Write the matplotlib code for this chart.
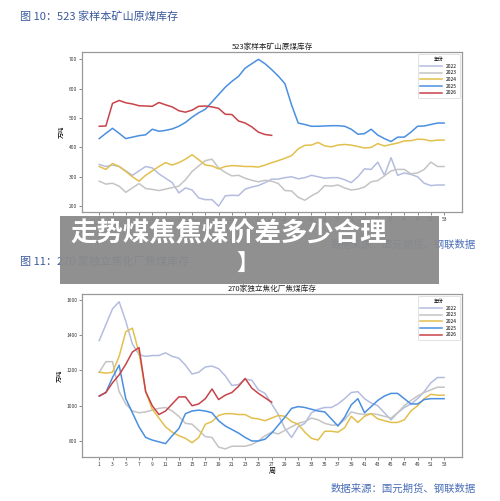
import matplotlib
matplotlib.use("Agg")
import matplotlib.pyplot as plt
import matplotlib.patches as mpatches

plt.rcParams['font.family'] = ['Noto Sans CJK SC', 'DejaVu Sans']

weeks = list(range(1, 54))
years = ['2022', '2023', '2024', '2025', '2026']
colors = ['#b4bde0', '#c4c4c4', '#e2c04e', '#4a8fe0', '#c8434a']

mine_2022 = [342,335,340,335,320,305,320,335,330,310,295,280,245,262,255,228,222,222,200,235,237,236,258,265,270,280,292,292,297,300,293,297,305,300,295,297,297,290,280,300,327,325,350,305,365,305,313,308,300,278,270,272,272]
mine_2023 = [285,275,278,268,247,262,277,260,257,253,258,263,268,290,318,337,355,360,330,315,303,305,295,288,283,288,285,277,253,252,230,220,235,247,270,268,272,262,255,258,265,283,287,303,320,325,325,310,313,325,350,335,335]
mine_2024 = [335,325,345,335,318,300,285,305,320,335,348,340,348,360,375,358,340,337,327,335,338,337,335,335,333,340,348,355,363,372,395,407,408,417,405,402,408,410,408,403,398,400,413,405,410,415,422,423,428,427,422,425,425]
mine_2025 = [430,448,465,448,430,435,440,443,462,455,458,463,472,485,503,518,530,555,580,605,625,642,670,685,700,685,665,643,617,545,483,478,472,472,473,474,474,472,462,445,447,462,442,430,420,435,435,452,472,473,478,483,483]
mine_2026 = [472,473,550,560,552,548,542,541,540,553,545,538,525,520,527,540,541,538,533,513,512,490,483,470,452,444,441]

coke_2022 = [1370,1460,1550,1590,1480,1350,1290,1280,1285,1285,1300,1280,1270,1230,1180,1190,1220,1225,1210,1170,1115,1120,1150,1145,1090,1070,1010,950,870,820,880,900,960,980,990,990,1010,1040,1075,1080,1040,1015,1000,960,920,960,990,1010,1040,1080,1130,1160,1160]
coke_2023 = [1190,1250,1250,1080,1010,970,960,965,975,985,990,970,940,900,895,860,825,820,765,755,770,770,770,780,800,830,850,840,860,880,900,910,930,920,900,890,890,920,965,955,950,955,950,940,930,960,1000,1030,1055,1075,1090,1105,1105]
coke_2024 = [1190,1185,1190,1280,1420,1440,1300,1080,980,930,880,850,830,815,790,820,895,910,945,955,955,950,950,930,925,915,930,945,940,910,895,850,815,805,855,855,850,875,940,905,940,955,925,915,905,905,920,970,1000,1040,1065,1060,1060]
coke_2025 = [1055,1075,1160,1230,1040,960,880,820,805,795,785,830,870,955,970,975,970,960,915,885,865,845,820,800,800,810,845,890,935,985,995,990,980,970,965,925,885,935,1005,1040,960,995,1030,1055,1070,1070,1040,1010,1010,1035,1040,1040,1040]
coke_2026 = [1055,1075,1130,1175,1235,1305,1330,1080,1000,950,970,1010,1050,1050,1000,1010,1040,1095,1035,1060,1075,1110,1155,1100,1070,1045,1020]

W, H = 500, 501
fig = plt.figure(figsize=(W/100, H/100), dpi=100)
fig.patch.set_facecolor('white')

def ax_px(x0, y0, x1, y1):
    return fig.add_axes([x0/W, 1-y1/H, (x1-x0)/W, (y1-y0)/H])

def draw(ax, series, title, ylim, yticks, xlabel):
    for s, c, lab in zip(series, colors, years):
        ax.plot(weeks[:len(s)], s, color=c, lw=1.1, label=lab)
    ax.set_xlim(-1.6, 55.7)
    ax.set_ylim(*ylim)
    ax.set_xticks(weeks[::2])
    ax.set_yticks(yticks)
    ax.tick_params(labelsize=3.5, length=2, width=0.4, colors='#333333', pad=1.5)
    ax.set_title(title, fontsize=5.5, pad=2, color='#222222')
    ax.set_ylabel('万吨', fontsize=4.5, labelpad=2)
    if xlabel:
        ax.set_xlabel('周', fontsize=5, labelpad=0)
    for sp in ax.spines.values():
        sp.set_color('#999999'); sp.set_linewidth(0.9)
    leg = ax.legend(title='年份', fontsize=3.5, title_fontsize=3.5, loc='upper right',
                    handlelength=4.5, labelspacing=0.35, borderpad=0.5, framealpha=1,
                    edgecolor='#cccccc')
    leg.get_frame().set_linewidth(0.4)

ax1 = ax_px(82, 52, 462, 212)
draw(ax1, [mine_2022, mine_2023, mine_2024, mine_2025, mine_2026], '523家样本矿山原煤库存',
     (180, 725), [200, 300, 400, 500, 600, 700], False)
ax2 = ax_px(82, 294, 462, 457)
draw(ax2, [coke_2022, coke_2023, coke_2024, coke_2025, coke_2026], '270家独立焦化厂焦煤库存',
     (709, 1634), [800, 1000, 1200, 1400, 1600], True)

blue = '#3a5a9c'
fig.text(20/W, 1-17/H, '图 10：523 家样本矿山原煤库存', fontsize=8, color=blue, va='center')
fig.text(20/W, 1-262/H, '图 11：270 家独立焦化厂焦煤库存', fontsize=8, color=blue, va='center')
fig.text(476/W, 1-245/H, '数据来源：国元期货、钢联数据', fontsize=7.5, color='#4a6db8', va='center', ha='right')
fig.text(476/W, 1-489/H, '数据来源：国元期货、钢联数据', fontsize=7.5, color='#4a6db8', va='center', ha='right')

fig.patches.append(mpatches.Rectangle((60/W, 1-284/H), (439-60)/W, (284-216)/H,
                   transform=fig.transFigure, facecolor='#8a8a8a', alpha=0.95, zorder=5))
fig.text(70/W, 1-234/H, '走势煤焦焦煤价差多少合理', fontsize=19, color='white', fontweight='bold',
         va='center', zorder=6)
fig.text(236/W, 1-263/H, '】', fontsize=16, color='white', fontweight='bold', va='center', zorder=6)

fig.savefig('out.png', dpi=100, facecolor='white')
